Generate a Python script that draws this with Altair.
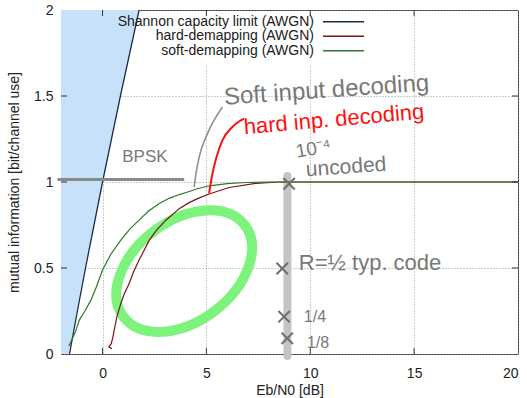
import altair as alt
import pandas as pd

# ---------------- data ----------------
shannon_ebn0 = [-1.59, -1.21, -0.82, -0.41, 0.0, 0.43, 0.86, 1.31, 1.76]
shannon_mi = [0.0, 0.25, 0.5, 0.75, 1.0, 1.25, 1.5, 1.75, 2.0]

soft_ebn0 = [-1.62, -1.45, -1.3, -1.12, -0.85, -0.56, -0.3, 0.0, 0.4, 0.88, 1.3, 1.76,
             2.2, 2.73, 3.2, 3.7, 4.17, 4.6, 5.13, 6.0, 6.9, 8.0, 10.0, 15.0, 20.0]
soft_mi = [0.046, 0.09, 0.13, 0.197, 0.25, 0.313, 0.39, 0.488, 0.58, 0.662, 0.725, 0.778,
           0.83, 0.875, 0.905, 0.927, 0.945, 0.962, 0.978, 0.99, 0.997, 1.0, 1.0, 1.0, 1.0]

hard_ebn0 = [0.45, 0.3, 0.42, 0.5, 0.56, 0.7, 0.88, 1.05, 1.28, 1.5, 1.76, 2.25, 2.6,
             3.05, 3.69, 4.17, 4.6, 5.13, 6.09, 7.37, 8.5, 10.0, 15.0, 20.0]
hard_mi = [0.03, 0.042, 0.06, 0.1, 0.139, 0.22, 0.294, 0.35, 0.41, 0.48, 0.546, 0.662, 0.72,
           0.778, 0.845, 0.88, 0.905, 0.93, 0.968, 0.992, 1.0, 1.0, 1.0, 1.0]

legend_labels = ["Shannon capacity limit (AWGN)", "hard-demapping (AWGN)", "soft-demapping (AWGN)"]
legend_colors = ["#1c2d4c", "#7d1414", "#2a7a2a"]

x_ticks = [0, 5, 10, 15]
y_ticks = [0.5, 1.0, 1.5]

# hand-written annotations (data coordinates)
bpsk_line_x = [-2.17, 3.93]
bpsk_line_y = [1.014, 1.014]
soft_pointer_x = [4.41, 4.5, 4.65, 5.05, 5.77]
soft_pointer_y = [0.971, 1.05, 1.145, 1.281, 1.436]
hard_pointer_x = [5.13, 5.29, 5.5, 5.77, 6.25, 6.81]
hard_pointer_y = [0.934, 1.049, 1.15, 1.242, 1.32, 1.368]
ber_bar_x = 8.9
ber_bar_y = [1.035, -0.012]
cross_x = [8.98, 8.65, 8.74, 8.89]
cross_y = [0.99, 0.497, 0.217, 0.091]
ellipse_x = [3.93]
ellipse_y = [0.482]

notes_gray = ["BPSK", "Soft input decoding", "10⁻⁴", "uncoded", "R=½ typ. code", "1/4", "1/8"]
notes_gray_x = [0.95, 5.85, 9.31, 9.79, 9.45, 9.69, 9.84]
notes_gray_y = [1.144, 1.49, 1.175, 1.068, 0.528, 0.215, 0.064]
notes_gray_angle = [0, 356, 350, 356, 0, 0, 0]
notes_gray_size = [17, 24, 19, 21, 22, 16, 16]
notes_red = ["hard inp. decoding"]
notes_red_x = [6.8]
notes_red_y = [1.318]

# ---------------- chart ----------------
W, H = 457, 344
FONT = "Liberation Sans"

xs = alt.Scale(domain=[-2, 20], nice=False, zero=False)
ys = alt.Scale(domain=[0, 2], nice=False, zero=False)

x_axis = alt.Axis(values=[0, 5, 10, 15, 20], title="Eb/N0 [dB]", ticks=False, tickSize=0,
                  domain=False, grid=True, gridDash=[1, 2], gridColor="#9a9a9a",
                  labelFont=FONT, labelFontSize=14, labelColor="#222", labelPadding=12,
                  titleFont=FONT, titleFontSize=14, titleFontWeight="normal",
                  titleColor="#222", titlePadding=3)
y_axis = alt.Axis(values=[0, 0.5, 1, 1.5, 2], format="~g",
                  title="mutual information [bit/channel use]", ticks=False, tickSize=0,
                  domain=False, grid=True, gridDash=[1, 2], gridColor="#9a9a9a",
                  labelFont=FONT, labelFontSize=14, labelColor="#222", labelPadding=8,
                  titleFont=FONT, titleFontSize=14, titleFontWeight="normal",
                  titleColor="#222", titlePadding=12)

Y = alt.Y("y:Q", scale=ys, axis=y_axis)
Xn = alt.X("x:Q", scale=xs)
Yn = alt.Y("y:Q", scale=ys)

shannon_df = pd.DataFrame({"x": shannon_ebn0, "y": shannon_mi})
shannon_df["x0"] = -2.0
soft_df = pd.DataFrame({"x": soft_ebn0, "y": soft_mi, "o": range(len(soft_ebn0))})
hard_df = pd.DataFrame({"x": hard_ebn0, "y": hard_mi, "o": range(len(hard_ebn0))})
one = pd.DataFrame({"a": [0]})

fill = alt.Chart(shannon_df).mark_area(orient="horizontal", color="#c8e1fa").encode(
    x=alt.X("x0:Q", scale=xs, axis=x_axis), x2="x:Q", y=Y)

legend_bg = alt.Chart(one).mark_rect(color="white").encode(
    x=alt.value(80), x2=alt.value(312), y=alt.value(1), y2=alt.value(55))

ellipse_path = ("M -1 0 C -1 -0.365 -0.552 -0.66 0 -0.66 C 0.552 -0.66 1 -0.365 1 0 "
                "C 1 0.365 0.552 0.66 0 0.66 C -0.552 0.66 -1 0.365 -1 0 Z")
ellipse = alt.Chart(pd.DataFrame({"x": ellipse_x, "y": ellipse_y})).mark_point(
    shape=ellipse_path, filled=False, size=152 * 152, strokeWidth=10,
    color="#7df27d", opacity=1, angle=323).encode(x=Xn, y=Yn)

bar = alt.Chart(pd.DataFrame({"x": [ber_bar_x], "y": [ber_bar_y[0]], "y2": [ber_bar_y[1]]})).mark_rule(
    color="#c4c4c4", strokeWidth=8, strokeCap="round").encode(x=Xn, y=Yn, y2="y2:Q")

shannon = alt.Chart(shannon_df).mark_line(color=legend_colors[0], strokeWidth=1.3).encode(x=Xn, y=Yn)
hard = alt.Chart(hard_df).mark_line(color=legend_colors[1], strokeWidth=1.2).encode(
    x=Xn, y=Yn, order="o:Q")
soft = alt.Chart(soft_df).mark_line(color=legend_colors[2], strokeWidth=1.2).encode(
    x=Xn, y=Yn, order="o:Q")

tick_x_df = pd.DataFrame({"x": x_ticks})
tick_y_df = pd.DataFrame({"y": y_ticks})
tick_style = dict(color="#333", strokeWidth=1)
ticks = [
    alt.Chart(tick_x_df).mark_rule(**tick_style).encode(x=Xn, y=alt.value(H), y2=alt.value(H - 6)),
    alt.Chart(tick_x_df).mark_rule(**tick_style).encode(x=Xn, y=alt.value(0), y2=alt.value(6)),
    alt.Chart(tick_y_df).mark_rule(**tick_style).encode(y=Yn, x=alt.value(0), x2=alt.value(6)),
    alt.Chart(tick_y_df).mark_rule(**tick_style).encode(y=Yn, x=alt.value(W), x2=alt.value(W - 6)),
]

bpsk_line = alt.Chart(pd.DataFrame({"x": bpsk_line_x, "y": bpsk_line_y})).mark_line(
    color="#8a8a8a", strokeWidth=3).encode(x=Xn, y=Yn)
soft_ptr = alt.Chart(pd.DataFrame({"x": soft_pointer_x, "y": soft_pointer_y})).mark_line(
    color="#909090", strokeWidth=1.6, interpolate="monotone").encode(x=Xn, y=Yn)
hard_ptr = alt.Chart(pd.DataFrame({"x": hard_pointer_x, "y": hard_pointer_y})).mark_line(
    color="#ff1010", strokeWidth=2, interpolate="monotone").encode(x=Xn, y=Yn)

crosses = alt.Chart(pd.DataFrame({"x": cross_x, "y": cross_y})).mark_point(
    shape="M -1 -1 L 1 1 M -1 1 L 1 -1", filled=False, size=130, strokeWidth=2,
    color="#6e6e6e", opacity=1).encode(x=Xn, y=Yn)

gray_df = pd.DataFrame({"x": notes_gray_x, "y": notes_gray_y, "t": notes_gray,
                        "ang": notes_gray_angle, "fs": notes_gray_size})
gray_text = alt.Chart(gray_df).mark_text(
    align="left", baseline="middle", font=FONT, color="#787878").encode(
    x=Xn, y=Yn, text="t:N", angle=alt.Angle("ang:Q", scale=None),
    size=alt.Size("fs:Q", scale=None))
red_text = alt.Chart(pd.DataFrame({"x": notes_red_x, "y": notes_red_y, "t": notes_red})).mark_text(
    align="left", baseline="middle", font=FONT, color="#ff1010", fontSize=22, angle=355).encode(
    x=Xn, y=Yn, text="t:N")

legend_layers = []
for i, (lab, col) in enumerate(zip(legend_labels, legend_colors)):
    yy = 11.7 + 14.5 * i
    legend_layers.append(
        alt.Chart(pd.DataFrame({"t": [lab]})).mark_text(
            align="right", baseline="middle", font=FONT, fontSize=14, color="#1a1a1a").encode(
            x=alt.value(253), y=alt.value(yy), text="t:N"))
    legend_layers.append(
        alt.Chart(one).mark_rule(color=col, strokeWidth=1.5).encode(
            x=alt.value(262), x2=alt.value(303), y=alt.value(yy)))

chart = alt.layer(
    fill, legend_bg, ellipse, bar, shannon, hard, soft, *ticks,
    bpsk_line, soft_ptr, hard_ptr, crosses, gray_text, red_text, *legend_layers
).properties(
    width=W, height=H,
    autosize=alt.AutoSizeParams(type="none"),
    padding={"left": 61, "top": 10, "right": 9, "bottom": 44},
    background="white",
).configure_view(stroke="#333", strokeWidth=1)

chart.save("out.html", embed_options={"renderer": "svg", "actions": False})
